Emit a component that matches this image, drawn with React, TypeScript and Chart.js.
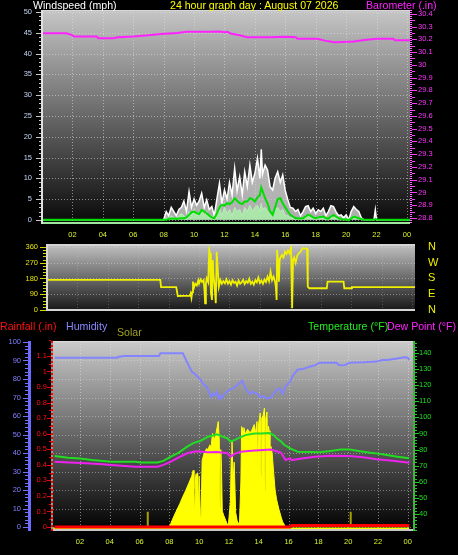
import React, { useEffect, useRef } from "react";
import { Chart, registerables } from "chart.js";

Chart.register(...registerables);

const FONT = "'Liberation Sans', Arial, Helvetica, sans-serif";
Chart.defaults.font.family = FONT;

// ---------------- DATA ----------------
const hourTicks = [2, 4, 6, 8, 10, 12, 14, 16, 18, 20, 22, 24];
const hourLabels = ["02", "04", "06", "08", "10", "12", "14", "16", "18", "20", "22", "00"];

// top panel axes
const windTicks = [0, 5, 10, 15, 20, 25, 30, 35, 40, 45, 50];
const baroTicks = [28.8, 28.9, 29, 29.1, 29.2, 29.3, 29.4, 29.5, 29.6, 29.7, 29.8, 29.9, 30, 30.1, 30.2, 30.3, 30.4];

// barometer (in)
const baroHours = [0.07, 1.6, 1.95, 2.1, 3.6, 3.7, 4.7, 5.0, 6.0, 7.0, 7.8, 8.9, 9.5, 11.0, 11.7, 12.0, 12.2, 12.4, 13.0, 13.5, 15.0, 16.0, 16.7, 16.8, 18.1, 18.6, 19.2, 19.8, 20.5, 21.2, 22.0, 23.1, 23.2, 24.2];
const baroValues = [30.248, 30.248, 30.235, 30.223, 30.223, 30.209, 30.209, 30.217, 30.223, 30.233, 30.241, 30.25, 30.259, 30.26, 30.261, 30.255, 30.26, 30.245, 30.232, 30.217, 30.217, 30.22, 30.217, 30.204, 30.204, 30.19, 30.178, 30.18, 30.183, 30.195, 30.204, 30.204, 30.193, 30.193];

// wind speed (mph)
const windHours = [0.07, 8.0, 8.17, 8.33, 8.5, 8.67, 8.83, 9.0, 9.17, 9.33, 9.5, 9.67, 9.83, 10.0, 10.17, 10.33, 10.5, 10.67, 10.83, 11.0, 11.17, 11.33, 11.5, 11.67, 11.83, 12.0, 12.17, 12.33, 12.5, 12.67, 12.83, 13.0, 13.17, 13.33, 13.5, 13.67, 13.83, 14.0, 14.17, 14.33, 14.42, 14.5, 14.67, 14.83, 15.0, 15.17, 15.33, 15.5, 15.67, 15.83, 16.0, 16.17, 16.33, 16.5, 16.67, 16.83, 17.0, 17.17, 17.33, 17.5, 17.67, 17.83, 18.0, 18.17, 18.33, 18.5, 18.67, 18.83, 19.0, 19.17, 19.33, 19.5, 19.67, 19.83, 20.0, 20.17, 20.33, 20.5, 20.67, 20.83, 21.0, 21.17, 21.83, 21.92, 22.0, 22.17, 24.2];
const windGust = [0, 0, 2, 1, 3, 2, 1, 2.5, 3, 4.5, 2, 6.8, 3, 5, 3.5, 4.5, 6.4, 3, 4.8, 2.5, 3.2, 1, 5, 8.8, 4, 7.2, 5, 9, 6, 12.4, 7, 10.4, 6, 11.6, 8, 13.2, 9, 11.2, 14.8, 10, 17, 11, 13.2, 12, 8, 7.2, 10, 11.6, 9, 10.8, 7, 4.8, 3, 2.8, 2, 2.5, 1, 2, 3.2, 3.4, 2, 2.8, 1.5, 2.4, 2, 2.8, 1, 2, 3.4, 3.2, 2, 1, 1.2, 0.5, 1.2, 0, 2, 3.2, 2.5, 2, 0.5, 0, 0, 2.4, 0, 0, 0];
const windSpeed = [0, 0, 0.5, 0, 1, 0.5, 0, 1, 1.5, 1, 0, 2, 1, 2.5, 1, 2, 2.5, 1, 2, 0.5, 1, 0, 1.5, 3, 1, 3, 1.5, 2.5, 1, 3, 2, 2.5, 1, 3, 2, 3.5, 2, 3, 3.5, 2, 4, 2.5, 3, 2, 1.5, 1, 2.5, 3, 2, 2.5, 1, 1, 0.5, 0.5, 0, 0.5, 0, 0.5, 1, 1, 0.5, 0.5, 0, 0.5, 0.5, 0.5, 0, 0, 1, 0.5, 0.5, 0, 0, 0, 0, 0, 0.5, 1, 0.5, 0.5, 0, 0, 0, 0.5, 0, 0, 0];
const windAvg = [0, 0, 0, 0.2, 0.3, 0.3, 0.2, 0.3, 0.4, 0.4, 0.6, 1.2, 1.8, 2, 1.6, 1.4, 2.4, 2, 1.6, 1, 0.6, 0.4, 1.5, 3, 3.6, 3.4, 4, 3.8, 4.2, 5.2, 4.6, 4, 3.8, 4.4, 4.4, 5.2, 5, 4.4, 5.4, 6, 7.8, 7, 5.2, 4, 2, 1.2, 3, 5, 5.2, 4, 3, 2, 1.2, 0.8, 0.4, 0.4, 0.3, 0.4, 0.8, 1.2, 1, 0.6, 0.4, 0.6, 0.7, 0.8, 0.4, 0.3, 0.8, 1.2, 0.8, 0.4, 0.2, 0.1, 0.1, 0, 0.3, 0.8, 0.6, 0.4, 0.2, 0, 0, 0.2, 0.1, 0, 0];

// middle panel: wind direction (degrees)
const dirTicks = [0, 90, 180, 270, 360];
const compassLabels = ["N", "E", "S", "W", "N"];
const dirHours = [0.07, 7.45, 7.5, 8.5, 8.6, 9.4, 9.45, 9.5, 9.55, 9.6, 9.65, 9.75, 9.85, 9.95, 10.0, 10.1, 10.2, 10.3, 10.35, 10.4, 10.45, 10.5, 10.6, 10.67, 10.72, 10.78, 10.85, 10.9, 10.95, 11.0, 11.1, 11.16, 11.22, 11.3, 11.4, 11.5, 11.6, 11.7, 11.8, 11.9, 12.0, 12.1, 12.2, 12.3, 12.4, 12.5, 12.6, 12.7, 12.8, 12.9, 13.0, 13.1, 13.2, 13.3, 13.4, 13.5, 13.6, 13.7, 13.8, 13.9, 14.0, 14.1, 14.2, 14.3, 14.4, 14.5, 14.6, 14.7, 14.8, 14.9, 15.0, 15.05, 15.1, 15.13, 15.2, 15.25, 15.3, 15.35, 15.45, 15.55, 15.65, 15.75, 15.85, 15.95, 16.05, 16.12, 16.18, 16.25, 16.35, 16.45, 16.55, 16.65, 16.8, 17.0, 17.1, 17.15, 17.25, 18.4, 18.45, 19.5, 19.55, 20.0, 20.05, 24.2];
const dirValues = [172, 172, 130, 130, 80, 82, 95, 70, 100, 162, 124, 150, 140, 170, 152, 175, 160, 171, 120, 38, 150, 181, 160, 343, 324, 100, 57, 286, 200, 160, 38, 333, 250, 133, 171, 150, 165, 152, 175, 150, 165, 145, 170, 155, 162, 140, 168, 150, 158, 172, 148, 165, 155, 178, 150, 162, 145, 170, 158, 185, 155, 168, 150, 175, 160, 190, 165, 219, 170, 190, 160, 130, 57, 343, 280, 162, 286, 300, 314, 300, 333, 320, 340, 325, 358, 10, 286, 300, 270, 310, 324, 330, 352, 352, 350, 133, 124, 124, 162, 162, 124, 124, 130, 130];

// bottom panel axes
const humidityTicks = [0, 10, 20, 30, 40, 50, 60, 70, 80, 90, 100];
const rainTicks = [0, 0.1, 0.2, 0.3, 0.4, 0.5, 0.6, 0.7, 0.8, 0.9, 1, 1.1];
const tempTicks = [40, 50, 60, 70, 80, 90, 100, 110, 120, 130, 140];

// humidity (%)
const humHours = [0.3, 2, 4.5, 4.6, 5.0, 7.3, 7.4, 8.9, 9.5, 9.8, 10.1, 10.3, 10.5, 10.8, 10.9, 11.0, 11.2, 11.3, 11.4, 11.5, 11.7, 12.0, 12.3, 12.6, 12.9, 13.1, 13.4, 13.6, 13.9, 14.1, 14.3, 14.5, 14.8, 15.0, 15.2, 15.4, 15.6, 15.8, 16.1, 16.3, 16.6, 17.0, 17.4, 17.8, 18.1, 19.2, 19.4, 19.8, 20.1, 21.0, 21.9, 22.3, 22.6, 23.2, 23.8, 24.0, 24.1];
const humValues = [91.5, 91.5, 91.5, 92, 92.4, 92.4, 93.9, 93.9, 84, 82, 79.5, 77, 76, 70.4, 72, 71, 73, 69.5, 71, 69.5, 72, 74, 75, 77, 79, 75, 72, 73, 72, 70, 71, 69.5, 70, 72, 74, 75, 72, 76, 78.6, 82, 85, 85.5, 86.6, 87.5, 88.8, 88.8, 87.4, 87.6, 88.8, 89, 89.4, 90.3, 90.3, 91, 91.7, 91.5, 90.3];

// temperature (F)
const tempHours = [0.3, 1.2, 2.0, 2.8, 4.1, 5.7, 6.1, 7.2, 7.6, 8.1, 8.6, 9.2, 9.6, 10.1, 10.6, 11.2, 11.6, 11.9, 12.1, 12.4, 12.6, 13.1, 13.7, 14.2, 14.7, 15.0, 15.2, 15.5, 15.7, 16.1, 16.6, 17.5, 18.1, 18.8, 19.5, 20.1, 20.8, 21.5, 22.0, 22.6, 23.3, 24.1];
const tempValues = [76, 75, 74.5, 73.5, 72.5, 72.5, 72, 72, 73, 75.6, 78, 81.8, 84, 85.5, 88, 89.5, 88, 87, 85, 86, 87, 89, 90, 90, 90.3, 89, 87, 85, 83, 80.8, 78.7, 78.5, 78.3, 79.2, 80, 80, 79, 78, 77.5, 76.6, 75.6, 74.6];

// dew point (F)
const dewHours = [0.3, 1.3, 2.4, 3.3, 4.1, 5.7, 7.2, 7.6, 8.1, 8.6, 9.2, 9.8, 10.6, 11.2, 11.9, 12.1, 12.4, 12.8, 13.5, 14.3, 14.8, 15.2, 15.5, 15.8, 16.1, 16.2, 17.0, 17.8, 18.8, 20.1, 21.0, 21.9, 23.0, 24.1];
const dewValues = [72.5, 72, 71.5, 71, 70.4, 69.4, 69.4, 70.5, 72.5, 75, 77.7, 79, 78.3, 78.5, 77.7, 75.6, 77.5, 78.7, 79.3, 79.8, 80, 79, 78, 73.5, 74.6, 73.5, 74.6, 75.5, 76.2, 76, 75.2, 74, 73, 71.9];

// rainfall (in)
const rainHours = [0.3, 16.1, 16.2, 24.1];
const rainValues = [0, 0, 0.01, 0.01];

// solar (W/m2)
const solarHours = [0.2, 7.95, 8.1, 8.3, 8.5, 8.7, 8.9, 9.1, 9.3, 9.5, 9.6, 9.65, 9.7, 9.75, 9.8, 9.85, 9.9, 9.95, 10.0, 10.08, 10.12, 10.2, 10.35, 10.5, 10.6, 10.7, 10.8, 10.9, 11.0, 11.1, 11.2, 11.28, 11.35, 11.4, 11.45, 11.5, 11.55, 11.65, 11.8, 11.95, 12.05, 12.1, 12.15, 12.2, 12.28, 12.35, 12.45, 12.55, 12.7, 12.8, 12.85, 12.95, 13.0, 13.1, 13.25, 13.4, 13.5, 13.6, 13.7, 13.8, 13.88, 13.92, 13.97, 14.05, 14.1, 14.15, 14.2, 14.3, 14.38, 14.42, 14.47, 14.55, 14.6, 14.65, 14.7, 14.75, 14.82, 14.9, 15.0, 15.1, 15.2, 15.35, 15.5, 15.6, 15.75, 15.85, 16.0, 24.1];
const solarValues = [0, 0, 30, 75, 115, 155, 200, 240, 285, 330, 368, 250, 45, 320, 346, 200, 350, 120, 330, 73, 40, 432, 480, 507, 500, 529, 520, 604, 560, 590, 640, 679, 560, 130, 500, 380, 108, 80, 45, 10, 120, 174, 450, 561, 300, 420, 100, 45, 20, 300, 647, 620, 640, 600, 630, 610, 615, 640, 660, 600, 679, 300, 650, 700, 733, 330, 700, 720, 765, 240, 700, 740, 500, 650, 620, 400, 520, 475, 350, 239, 180, 120, 70, 40, 15, 5, 0, 0];

// short olive spikes
const spikeHours = [6.55, 20.17];
const spikeValues = [104, 104];

// ---------------- HELPERS ----------------
const pts = (xs: number[], ys: number[]) => xs.map((x, i) => ({ x, y: ys[i] }));
const range = (a: number, b: number, s: number) => {
  const out: number[] = [];
  for (let v = a; v <= b + 1e-9; v += s) out.push(Math.round(v * 1000) / 1000);
  return out;
};
const setTicks = (vals: number[]) => (s: any) => {
  s.ticks = vals.map((v) => ({ value: v }));
};
const fixW = (w: number) => (s: any) => {
  s.width = w;
  s.paddingTop = 0; s.paddingBottom = 0; s.paddingLeft = 0; s.paddingRight = 0;
};
const fixH = (h: number) => (s: any) => {
  s.height = h;
  s.paddingTop = 0; s.paddingBottom = 0; s.paddingLeft = 0; s.paddingRight = 0;
};
const tickFont = { family: FONT, size: 7.5 };
const hourLabel = (v: any) => hourLabels[hourTicks.indexOf(Number(v))] ?? "";
const oneDec = (v: any) => String(Math.round(Number(v) * 10) / 10);
const noGrid = { display: false, drawTicks: false };
const noBorder = { display: false };

const decorPlugin = {
  id: "decor",
  beforeDraw(chart: any, _a: any, o: any) {
    const { ctx, chartArea: a, scales } = chart;
    ctx.save();
    const g = ctx.createLinearGradient(0, a.top, 0, a.bottom);
    g.addColorStop(0, o.bgTop);
    g.addColorStop(1, o.bgBottom);
    ctx.fillStyle = g;
    ctx.fillRect(a.left, a.top, a.right - a.left, a.bottom - a.top);
    ctx.lineWidth = 1;
    ctx.setLineDash([1, 2]);
    ctx.strokeStyle = o.vGridColor;
    const xs = scales[o.vScale];
    for (const v of o.vValues) {
      const px = Math.round(xs.getPixelForValue(v)) + 0.5;
      if (px <= a.left + 1 || px >= a.right - 1) continue;
      ctx.beginPath();
      ctx.moveTo(px, a.top);
      ctx.lineTo(px, a.bottom);
      ctx.stroke();
    }
    ctx.strokeStyle = o.hGridColor;
    const ys = scales[o.hScale];
    for (const v of o.hValues) {
      const py = Math.round(ys.getPixelForValue(v)) + 0.5;
      if (py <= a.top + 1 || py >= a.bottom - 1) continue;
      ctx.beginPath();
      ctx.moveTo(a.left, py);
      ctx.lineTo(a.right, py);
      ctx.stroke();
    }
    ctx.restore();
  },
  afterDraw(chart: any, _a: any, o: any) {
    const { ctx, chartArea: a, scales } = chart;
    ctx.save();
    for (const e of o.edges || []) {
      ctx.strokeStyle = e.color;
      ctx.lineWidth = e.width;
      ctx.setLineDash(e.dash || []);
      ctx.beginPath();
      const h = e.width / 2;
      if (e.side === "top") { ctx.moveTo(a.left, a.top + h); ctx.lineTo(a.right, a.top + h); }
      if (e.side === "bottom") { ctx.moveTo(a.left, a.bottom - h); ctx.lineTo(a.right, a.bottom - h); }
      if (e.side === "left") { ctx.moveTo(a.left + (e.off || 0), a.top); ctx.lineTo(a.left + (e.off || 0), a.bottom); }
      if (e.side === "right") { ctx.moveTo(a.right + (e.off || 0), a.top); ctx.lineTo(a.right + (e.off || 0), a.bottom); }
      ctx.stroke();
    }
    ctx.setLineDash([]);
    for (const ax of o.axes || []) {
      const s = scales[ax.scale];
      ctx.strokeStyle = ax.color;
      ctx.lineWidth = 1;
      const draw = (v: number, len: number) => {
        const py = Math.round(s.getPixelForValue(v)) + 0.5;
        if (py < a.top - 0.5 || py > a.bottom + 0.5) return;
        ctx.beginPath();
        ctx.moveTo(ax.x, py);
        ctx.lineTo(ax.x + ax.dir * len, py);
        ctx.stroke();
      };
      ax.minor.forEach((v: number) => draw(v, ax.minorLen));
      ax.major.forEach((v: number) => draw(v, ax.majorLen));
      if (ax.line) {
        ctx.strokeStyle = ax.line.color;
        ctx.lineWidth = ax.line.width;
        ctx.beginPath();
        ctx.moveTo(ax.line.x, a.top);
        ctx.lineTo(ax.line.x, a.bottom);
        ctx.stroke();
      }
    }
    ctx.restore();
  },
};

// ---------------- CONFIGS ----------------
const baseOpts = {
  animation: false as const,
  responsive: false,
  maintainAspectRatio: false,
  devicePixelRatio: 1,
  events: [] as any[],
};

function topConfig(): any {
  return {
    type: "line",
    data: {
      datasets: [
        { data: pts(baroHours, baroValues), yAxisID: "yBaro", borderColor: "#ff22ff", borderWidth: 2, pointRadius: 0, fill: false },
        { data: pts(windHours, windAvg), yAxisID: "yWind", borderColor: "#00dd00", borderWidth: 2, pointRadius: 0, fill: false },
        { data: pts(windHours, windSpeed), yAxisID: "yWind", borderColor: "#b8f0b8", backgroundColor: "rgba(170,232,170,0.95)", borderWidth: 1, pointRadius: 0, fill: "origin" },
        { data: pts(windHours, windGust), yAxisID: "yWind", borderColor: "#ffffff", backgroundColor: "rgba(215,215,215,0.8)", borderWidth: 1.5, pointRadius: 0, fill: "origin" },
      ],
    },
    options: {
      ...baseOpts,
      layout: { padding: { top: 10, bottom: 0, left: 0, right: 0 } },
      plugins: {
        legend: { display: false },
        tooltip: { enabled: false },
        decor: {
          bgTop: "#c6c6c6", bgBottom: "#080808",
          vScale: "x", vValues: hourTicks, vGridColor: "rgba(225,225,225,0.55)",
          hScale: "yWind", hValues: windTicks, hGridColor: "rgba(225,225,225,0.55)",
          edges: [
            { side: "top", color: "#d8d8d8", width: 1 },
            { side: "bottom", color: "#9ee89e", width: 2 },
            { side: "right", color: "#ff66ff", width: 2, off: 1, dash: [1, 1] },
          ],
          axes: [
            { scale: "yWind", x: 42, dir: -1, color: "#c8c8c8", major: windTicks, minor: range(0, 50, 1), majorLen: 6, minorLen: 3, line: { x: 42, color: "#e0e0e0", width: 2 } },
            { scale: "yBaro", x: 412, dir: 1, color: "#ff33ff", major: baroTicks, minor: range(28.8, 30.4, 0.05), majorLen: 5, minorLen: 3 },
          ],
        },
      },
      scales: {
        x: {
          type: "linear", min: 0.066, max: 24.2,
          afterFit: fixH(21),
          afterBuildTicks: setTicks(hourTicks),
          ticks: { color: "#d8f030", font: tickFont, padding: 6, maxRotation: 0, autoSkip: false, callback: hourLabel },
          grid: noGrid, border: noBorder,
        },
        yWind: {
          position: "left", min: -1, max: 50.5,
          afterFit: fixW(43),
          afterBuildTicks: setTicks(windTicks),
          ticks: { color: "#c4d4f4", font: tickFont, padding: 11, autoSkip: false },
          grid: noGrid, border: noBorder,
        },
        yBaro: {
          position: "right", min: 28.753, max: 30.43,
          afterFit: fixW(48),
          afterBuildTicks: setTicks(baroTicks),
          ticks: { color: "#ff33ff", font: tickFont, padding: 8, autoSkip: false, callback: oneDec },
          grid: noGrid, border: noBorder,
        },
      },
    },
    plugins: [decorPlugin],
  };
}

function midConfig(): any {
  return {
    type: "line",
    data: {
      datasets: [
        { data: pts(dirHours, dirValues), yAxisID: "yDir", borderColor: "#f0f000", borderWidth: 1.8, pointRadius: 0, fill: false },
      ],
    },
    options: {
      ...baseOpts,
      layout: { padding: { top: 8, bottom: 11, left: 0, right: 0 } },
      plugins: {
        legend: { display: false },
        tooltip: { enabled: false },
        decor: {
          bgTop: "#c2c2c2", bgBottom: "#161616",
          vScale: "x", vValues: hourTicks, vGridColor: "rgba(210,210,210,0.25)",
          hScale: "yDir", hValues: dirTicks, hGridColor: "rgba(225,225,225,0.45)",
          edges: [
            { side: "top", color: "#d4d4d4", width: 2 },
            { side: "bottom", color: "#d4d4d4", width: 2 },
          ],
          axes: [
            { scale: "yDir", x: 46, dir: -1, color: "#d8d800", major: dirTicks, minor: range(0, 360, 18), majorLen: 6, minorLen: 3, line: { x: 47, color: "#d8d8d8", width: 2 } },
          ],
        },
      },
      scales: {
        x: { type: "linear", display: false, min: 0.066, max: 24.2 },
        yDir: {
          position: "left", min: -6, max: 377,
          afterFit: fixW(48),
          afterBuildTicks: setTicks(dirTicks),
          ticks: { color: "#e4e400", font: tickFont, padding: 10, autoSkip: false },
          grid: noGrid, border: noBorder,
        },
        yCompass: {
          position: "right", min: -6, max: 377,
          afterFit: fixW(43),
          afterBuildTicks: setTicks(dirTicks),
          ticks: { color: "#f0f000", font: { family: FONT, size: 11 }, padding: 13, autoSkip: false, callback: (v: any) => compassLabels[dirTicks.indexOf(Number(v))] ?? "" },
          grid: noGrid, border: noBorder,
        },
      },
    },
    plugins: [decorPlugin],
  };
}

function bottomConfig(): any {
  const spikeData: any[] = [];
  spikeHours.forEach((h, i) => {
    spikeData.push({ x: h, y: 0 }, { x: h, y: spikeValues[i] }, { x: h, y: null });
  });
  return {
    type: "line",
    data: {
      datasets: [
        { data: pts(humHours, humValues), yAxisID: "yHum", borderColor: "#8484ff", borderWidth: 2, pointRadius: 0, fill: false },
        { data: pts(tempHours, tempValues), yAxisID: "yTemp", borderColor: "#22dd22", borderWidth: 2, pointRadius: 0, fill: false },
        { data: pts(dewHours, dewValues), yAxisID: "yTemp", borderColor: "#ee22ee", borderWidth: 2, pointRadius: 0, fill: false },
        { data: pts(rainHours, rainValues), yAxisID: "yRain", borderColor: "#ff0000", borderWidth: 3, pointRadius: 0, fill: false },
        { data: spikeData, yAxisID: "ySolar", borderColor: "#a8a000", borderWidth: 2, pointRadius: 0, fill: false, spanGaps: false },
        { data: pts(solarHours, solarValues), yAxisID: "ySolar", borderColor: "#ffff00", backgroundColor: "#ffff00", borderWidth: 1, pointRadius: 0, fill: "start" },
      ],
    },
    options: {
      ...baseOpts,
      layout: { padding: { top: 23, bottom: 0, left: 0, right: 0 } },
      plugins: {
        legend: { display: false },
        tooltip: { enabled: false },
        decor: {
          bgTop: "#cacaca", bgBottom: "#000000",
          vScale: "x", vValues: hourTicks, vGridColor: "rgba(225,225,225,0.55)",
          hScale: "yHum", hValues: humidityTicks, hGridColor: "rgba(225,225,225,0.45)",
          edges: [
            { side: "top", color: "#d8d8d8", width: 1 },
            { side: "bottom", color: "#c8c8c8", width: 2 },
            { side: "left", color: "rgba(255,255,255,0.6)", width: 2, off: -1 },
            { side: "left", color: "#ff0000", width: 2, off: -1, dash: [2, 2] },
            { side: "right", color: "rgba(255,255,255,0.5)", width: 2, off: 1 },
            { side: "right", color: "#22cc22", width: 2, off: 1, dash: [2, 2] },
          ],
          axes: [
            { scale: "yHum", x: 28, dir: -1, color: "#7070ff", major: humidityTicks, minor: range(0, 100, 2), majorLen: 5, minorLen: 3, line: { x: 29.5, color: "#6c6cff", width: 3 } },
            { scale: "yRain", x: 51, dir: -1, color: "#ee0000", major: rainTicks, minor: range(0, 1.2, 0.05), majorLen: 4, minorLen: 2 },
            { scale: "yTemp", x: 414, dir: 1, color: "#22cc22", major: tempTicks, minor: range(30, 146, 2), majorLen: 5, minorLen: 3 },
          ],
        },
      },
      scales: {
        x: {
          type: "linear", min: 0.19, max: 24.35,
          afterFit: fixH(24),
          afterBuildTicks: setTicks(hourTicks),
          ticks: { color: "#d8f030", font: tickFont, padding: 6, maxRotation: 0, autoSkip: false, callback: hourLabel },
          grid: noGrid, border: noBorder,
        },
        yHum: {
          position: "left", weight: 2, min: -2.16, max: 100.54,
          afterFit: fixW(31),
          afterBuildTicks: setTicks(humidityTicks),
          ticks: { color: "#8080ff", font: tickFont, padding: 10, autoSkip: false },
          grid: noGrid, border: noBorder,
        },
        yRain: {
          position: "left", weight: 1, min: -0.0257, max: 1.196,
          afterFit: fixW(22),
          afterBuildTicks: setTicks(rainTicks),
          ticks: { color: "#ff1010", font: tickFont, padding: 6, autoSkip: false, callback: oneDec },
          grid: noGrid, border: noBorder,
        },
        yTemp: {
          position: "right", min: 29.44, max: 147.45,
          afterFit: fixW(45),
          afterBuildTicks: setTicks(tempTicks),
          ticks: { color: "#22dd22", font: tickFont, padding: 6, autoSkip: false },
          grid: noGrid, border: noBorder,
        },
        ySolar: { display: false, min: -19, max: 1193 },
      },
    },
    plugins: [decorPlugin],
  };
}

// ---------------- COMPONENTS ----------------
function ChartCanvas({ make, top, height }: { make: () => any; top: number; height: number }) {
  const ref = useRef<HTMLCanvasElement>(null);
  useEffect(() => {
    const chart = new Chart(ref.current as HTMLCanvasElement, make());
    return () => chart.destroy();
  }, []);
  return (
    <canvas
      ref={ref}
      width={458}
      height={height}
      style={{ position: "absolute", left: 0, top, width: 458, height, display: "block" }}
    />
  );
}

const label = (text: string, left: number, top: number, color: string) => (
  <div
    style={{
      position: "absolute", left, top, color, fontFamily: FONT, fontSize: 10.6,
      lineHeight: "11px", whiteSpace: "nowrap",
    }}
  >
    {text}
  </div>
);

export default function App() {
  return (
    <div style={{ position: "fixed", left: 0, top: 0, width: 458, height: 555, background: "#000", overflow: "hidden" }}>
      <ChartCanvas make={topConfig} top={0} height={245} />
      <ChartCanvas make={midConfig} top={236} height={86} />
      <ChartCanvas make={bottomConfig} top={318} height={237} />
      {label("Windspeed (mph)", 33, 0, "#ffffff")}
      {label("24 hour graph day : August 07 2026", 170, 0, "#ffff00")}
      {label("Barometer (.in)", 366, 0, "#ff22ff")}
      {label("Rainfall (.in)", 0, 321, "#ff1010")}
      {label("Humidity", 66, 321, "#8a8aff")}
      {label("Solar", 117, 327, "#a0a020")}
      {label("Temperature (°F)", 308, 321, "#22ee22")}
      {label("Dew Point (°F)", 387, 321, "#ff22ff")}
    </div>
  );
}
